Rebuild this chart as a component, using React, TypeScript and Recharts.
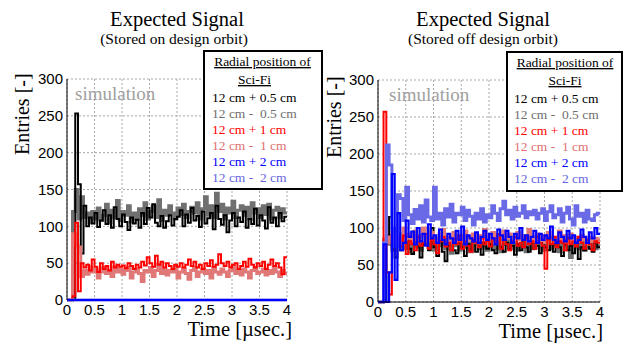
import React from 'react';
import { ComposedChart, Line, XAxis, YAxis, CartesianGrid } from 'recharts';

// bin edges in µs (80 bins of 0.05 µs)
const binEdges = [
  0, 0.05, 0.1, 0.15, 0.2, 0.25, 0.3, 0.35, 0.4, 0.45,
  0.5, 0.55, 0.6, 0.65, 0.7, 0.75, 0.8, 0.85, 0.9, 0.95,
  1, 1.05, 1.1, 1.15, 1.2, 1.25, 1.3, 1.35, 1.4, 1.45,
  1.5, 1.55, 1.6, 1.65, 1.7, 1.75, 1.8, 1.85, 1.9, 1.95,
  2, 2.05, 2.1, 2.15, 2.2, 2.25, 2.3, 2.35, 2.4, 2.45,
  2.5, 2.55, 2.6, 2.65, 2.7, 2.75, 2.8, 2.85, 2.9, 2.95,
  3, 3.05, 3.1, 3.15, 3.2, 3.25, 3.3, 3.35, 3.4, 3.45,
  3.5, 3.55, 3.6, 3.65, 3.7, 3.75, 3.8, 3.85, 3.9, 3.95,
  4,
];

const xMajor = [0, 0.5, 1, 1.5, 2, 2.5, 3, 3.5, 4];
const xMinor = [
  0, 0.1, 0.2, 0.3, 0.4, 0.5, 0.6, 0.7, 0.8, 0.9, 1, 1.1, 1.2, 1.3, 1.4, 1.5, 1.6, 1.7, 1.8, 1.9,
  2, 2.1, 2.2, 2.3, 2.4, 2.5, 2.6, 2.7, 2.8, 2.9, 3, 3.1, 3.2, 3.3, 3.4, 3.5, 3.6, 3.7, 3.8, 3.9, 4,
];
const yMajor = [0, 50, 100, 150, 200, 250, 300];
const yMinor = [
  0, 10, 20, 30, 40, 50, 60, 70, 80, 90, 100, 110, 120, 130, 140, 150, 160, 170, 180, 190,
  200, 210, 220, 230, 240, 250, 260, 270, 280, 290, 300,
];

// ---- Left panel: stored on design orbit ----
const leftP05 = [
  0, 0, 0, 253, 157, 63, 128, 100, 112, 104,
  118, 99, 108, 122, 103, 115, 98, 126, 110, 100,
  116, 106, 95, 112, 104, 109, 98, 118, 103, 125,
  112, 130, 105, 100, 114, 98, 107, 115, 101, 110,
  113, 122, 100, 116, 105, 125, 108, 114, 99, 120,
  104, 111, 118, 96, 128, 110, 102, 115, 92, 108,
  118, 100, 112, 106, 120, 98, 110, 103, 124, 101,
  115, 108, 97, 126, 105, 112, 100, 118, 107, 113,
];
const leftM05 = [
  0, 0, 120, 150, 110, 140, 112, 118, 105, 120,
  110, 125, 108, 115, 130, 105, 122, 112, 135, 108,
  120, 115, 128, 106, 118, 110, 124, 115, 132, 110,
  120, 127, 112, 136, 108, 122, 115, 128, 118, 110,
  125, 116, 130, 112, 120, 126, 118, 132, 110, 124,
  140, 115, 128, 112, 145, 120, 130, 110, 125, 118,
  134, 112, 122, 128, 115, 126, 110, 132, 118, 124,
  112, 128, 116, 130, 110, 122, 126, 112, 124, 118,
];
const leftP1 = [
  0, 0, 5, 105, 12, 50, 44, 48, 40, 55,
  45, 38, 50, 42, 46, 40, 52, 44, 48, 45,
  47, 43, 50, 46, 42, 48, 44, 52, 47, 58,
  50, 45, 60, 48, 52, 44, 50, 46, 42, 48,
  45, 50, 44, 48, 55, 46, 52, 44, 48, 42,
  50, 46, 54, 45, 48, 62, 50, 46, 52, 44,
  48, 50, 42, 46, 52, 45, 56, 48, 44, 50,
  46, 52, 42, 48, 55, 46, 50, 44, 35, 58,
];
const leftM1 = [
  0, 0, 90, 75, 72, 32, 40, 35, 45, 38,
  42, 30, 38, 44, 36, 40, 32, 45, 38, 42,
  35, 40, 44, 30, 38, 42, 36, 25, 40, 38,
  44, 32, 40, 48, 36, 42, 34, 40, 38, 45,
  30, 38, 42, 36, 28, 40, 44, 32, 38, 42,
  36, 40, 30, 44, 38, 35, 42, 38, 32, 40,
  45, 36, 40, 34, 42, 38, 30, 40, 44, 36,
  38, 42, 34, 40, 36, 44, 38, 32, 40, 36,
];
const leftP2 = [
  0, 0, 0, 0, 0, 0, 0, 0, 0, 0,
  0, 0, 0, 0, 0, 0, 0, 0, 0, 0,
  0, 0, 0, 0, 0, 0, 0, 0, 0, 0,
  0, 0, 0, 0, 0, 0, 0, 0, 0, 0,
  0, 0, 0, 0, 0, 0, 0, 0, 0, 0,
  0, 0, 0, 0, 0, 0, 0, 0, 0, 0,
  0, 0, 0, 0, 0, 0, 0, 0, 0, 0,
  0, 0, 0, 0, 0, 0, 0, 0, 0, 0,
];
const leftM2 = [
  0, 0, 0, 0, 0, 0, 0, 0, 0, 0,
  0, 0, 0, 0, 0, 0, 0, 0, 0, 0,
  0, 0, 0, 0, 0, 0, 0, 0, 0, 0,
  0, 0, 0, 0, 0, 0, 0, 0, 0, 0,
  0, 0, 0, 0, 0, 0, 0, 0, 0, 0,
  0, 0, 0, 0, 0, 0, 0, 0, 0, 0,
  0, 0, 0, 0, 0, 0, 0, 0, 0, 0,
  0, 0, 0, 0, 0, 0, 0, 0, 0, 0,
];

// ---- Right panel: stored off design orbit ----
const rightP05 = [
  0, 0, 0, 80, 115, 75, 60, 85, 70, 80,
  90, 72, 65, 82, 75, 60, 78, 85, 70, 100,
  74, 62, 80, 68, 55, 76, 84, 70, 66, 80,
  74, 62, 78, 70, 82, 68, 75, 64, 80, 72,
  78, 70, 66, 82, 74, 68, 80, 72, 76, 64,
  78, 70, 84, 74, 68, 80, 72, 76, 66, 80,
  74, 70, 78, 68, 82, 74, 62, 78, 70, 76,
  66, 80, 58, 74, 70, 78, 72, 68, 80, 74,
];
const rightM05 = [
  0, 0, 80, 90, 78, 70, 84, 76, 92, 72,
  80, 68, 86, 74, 82, 70, 78, 88, 74, 80,
  70, 84, 76, 90, 72, 80, 66, 82, 76, 70,
  84, 74, 80, 68, 78, 86, 72, 80, 74, 70,
  82, 76, 72, 80, 68, 78, 84, 72, 76, 80,
  70, 74, 82, 68, 78, 72, 80, 86, 74, 70,
  78, 82, 72, 76, 80, 68, 78, 84, 74, 60,
  80, 76, 72, 82, 70, 78, 74, 80, 72, 76,
];
const rightP1 = [
  0, 0, 257, 40, 10, 95, 80, 85, 75, 90,
  65, 82, 78, 70, 88, 76, 80, 92, 72, 84,
  78, 66, 82, 88, 75, 80, 70, 85, 78, 90,
  72, 82, 76, 68, 84, 80, 74, 88, 78, 82,
  75, 86, 80, 92, 72, 84, 78, 70, 82, 88,
  76, 80, 74, 86, 78, 82, 72, 88, 80, 76,
  45, 84, 78, 88, 74, 82, 80, 70, 86, 78,
  82, 75, 88, 80, 72, 84, 78, 70, 82, 80,
];
const rightM1 = [
  0, 0, 85, 80, 88, 95, 82, 90, 78, 100,
  86, 92, 80, 96, 84, 90, 100, 82, 88, 94,
  86, 80, 92, 98, 84, 88, 80, 94, 86, 90,
  82, 96, 88, 84, 92, 80, 90, 86, 98, 82,
  88, 94, 84, 90, 80, 96, 86, 92, 82, 88,
  94, 84, 90, 86, 98, 82, 88, 92, 84, 90,
  80, 94, 86, 88, 82, 96, 84, 90, 80, 92,
  86, 88, 82, 90, 84, 78, 88, 82, 86, 84,
];
const rightP2 = [
  0, 0, 78, 0, 40, 173, 30, 120, 70, 80,
  110, 88, 95, 78, 100, 82, 92, 76, 105, 86,
  90, 80, 98, 84, 78, 92, 86, 80, 96, 84,
  102, 78, 90, 86, 82, 94, 80, 88, 96, 84,
  92, 86, 78, 98, 90, 84, 96, 88, 80, 92,
  86, 100, 84, 90, 82, 88, 96, 80, 92, 84,
  90, 86, 102, 84, 80, 94, 88, 82, 96, 86,
  90, 80, 84, 98, 88, 80, 94, 86, 100, 92,
];
const rightM2 = [
  0, 0, 80, 212, 185, 100, 75, 145, 140, 110,
  155, 118, 106, 125, 112, 130, 108, 138, 115, 110,
  155, 112, 120, 104, 126, 115, 132, 108, 120, 118,
  128, 110, 124, 116, 104, 120, 112, 126, 108, 118,
  114, 130, 120, 110, 126, 136, 118, 124, 112, 128,
  116, 120, 130, 114, 122, 118, 124, 112, 120, 126,
  110, 122, 130, 114, 118, 126, 108, 120, 128, 112,
  104, 130, 116, 120, 108, 124, 112, 110, 118, 120,
];

// legend order
const legendEntries = [
  { key: 'p05', label: '12 cm + 0.5 cm', color: '#000000' },
  { key: 'm05', label: '12 cm -  0.5 cm', color: '#6e6e6e' },
  { key: 'p1', label: '12 cm + 1 cm', color: '#ff0000' },
  { key: 'm1', label: '12 cm -  1 cm', color: '#e07070' },
  { key: 'p2', label: '12 cm + 2 cm', color: '#0000ff' },
  { key: 'm2', label: '12 cm -  2 cm', color: '#6565e0' },
];

// draw order
const drawOrder = [
  { key: 'm05', color: '#707070', width: 3 },
  { key: 'p05', color: '#000000', width: 2 },
  { key: 'm1', color: '#e07878', width: 3 },
  { key: 'p1', color: '#ff0000', width: 2 },
  { key: 'm2', color: '#6a6ae6', width: 3 },
  { key: 'p2', color: '#0000ff', width: 2.2 },
];

function buildRows(series: Record<string, number[]>) {
  return binEdges.map((t, i) => {
    const row: Record<string, number> = { t };
    Object.keys(series).forEach((k) => {
      const arr = series[k];
      row[k] = arr[Math.min(i, arr.length - 1)];
    });
    return row;
  });
}

const leftRows = buildRows({ p05: leftP05, m05: leftM05, p1: leftP1, m1: leftM1, p2: leftP2, m2: leftM2 });
const rightRows = buildRows({ p05: rightP05, m05: rightM05, p1: rightP1, m1: rightM1, p2: rightP2, m2: rightM2 });

const SANS = "'Liberation Sans', Arial, Helvetica, sans-serif";
const SERIF = "'Liberation Serif', 'Times New Roman', Times, serif";
const FRAME_GRAY = '#808080';

function Panel({ rows, margin, bottomLine }: { rows: any[]; margin: any; bottomLine: boolean }) {
  const tickStyle = { fill: '#000', fontSize: 15, fontFamily: SANS };
  return (
    <ComposedChart width={312} height={344} data={rows} margin={margin}>
      <CartesianGrid stroke="#a8a8a8" strokeDasharray="2 2" />
      <XAxis
        xAxisId={0}
        dataKey="t"
        type="number"
        domain={[0, 4]}
        ticks={xMajor}
        interval={0}
        tickLine={false}
        tickSize={0}
        tickMargin={4}
        height={30}
        axisLine={bottomLine ? { stroke: '#000' } : false}
        tick={tickStyle}
      />
      <XAxis xAxisId="bmaj" type="number" domain={[0, 4]} ticks={xMajor} interval={0} allowDataOverflow mirror height={0}
        tick={false} axisLine={false} tickSize={8} tickLine={{ stroke: '#000' }} />
      <XAxis xAxisId="bmin" type="number" domain={[0, 4]} ticks={xMinor} interval={0} allowDataOverflow mirror height={0}
        tick={false} axisLine={false} tickSize={5} tickLine={{ stroke: '#000' }} />
      <XAxis xAxisId="tmaj" orientation="top" type="number" domain={[0, 4]} ticks={xMajor} interval={0} allowDataOverflow mirror height={0}
        tick={false} axisLine={{ stroke: FRAME_GRAY }} tickSize={8} tickLine={{ stroke: FRAME_GRAY }} />
      <XAxis xAxisId="tmin" orientation="top" type="number" domain={[0, 4]} ticks={xMinor} interval={0} allowDataOverflow mirror height={0}
        tick={false} axisLine={false} tickSize={5} tickLine={{ stroke: FRAME_GRAY }} />
      <YAxis
        yAxisId={0}
        type="number"
        domain={[0, 300]}
        ticks={yMajor}
        interval={0}
        tickLine={false}
        tickSize={0}
        tickMargin={4}
        width={40}
        axisLine={{ stroke: '#000' }}
        tick={tickStyle}
      />
      <YAxis yAxisId="lmaj" type="number" domain={[0, 300]} ticks={yMajor} interval={0} allowDataOverflow mirror width={0}
        tick={false} axisLine={false} tickSize={10} tickLine={{ stroke: '#000' }} />
      <YAxis yAxisId="lmin" type="number" domain={[0, 300]} ticks={yMinor} interval={0} allowDataOverflow mirror width={0}
        tick={false} axisLine={false} tickSize={6} tickLine={{ stroke: '#000' }} />
      <YAxis yAxisId="rmaj" orientation="right" type="number" domain={[0, 300]} ticks={yMajor} interval={0} allowDataOverflow mirror width={0}
        tick={false} axisLine={{ stroke: FRAME_GRAY }} tickSize={10} tickLine={{ stroke: FRAME_GRAY }} />
      <YAxis yAxisId="rmin" orientation="right" type="number" domain={[0, 300]} ticks={yMinor} interval={0} allowDataOverflow mirror width={0}
        tick={false} axisLine={false} tickSize={6} tickLine={{ stroke: FRAME_GRAY }} />
      {drawOrder.map((s) => (
        <Line
          key={s.key}
          xAxisId={0}
          yAxisId={0}
          type="stepAfter"
          dataKey={s.key}
          stroke={s.color}
          strokeWidth={s.width}
          strokeLinejoin="miter"
          dot={false}
          activeDot={false}
          isAnimationActive={false}
        />
      ))}
    </ComposedChart>
  );
}

function Legend({ x, y, w, h, textX, headerCx, sciCx, base }: any) {
  return (
    <g>
      <rect x={x} y={y} width={w} height={h} fill="#fff" stroke="#000" strokeWidth={2} />
      <text x={headerCx} y={base - 35.5} textAnchor="middle" fontFamily={SERIF} fontSize={13.5} fill="#000" textDecoration="underline">
        Radial position of
      </text>
      <text x={sciCx} y={base - 17.5} textAnchor="middle" fontFamily={SERIF} fontSize={13.5} fill="#000" textDecoration="underline">
        Sci-Fi
      </text>
      {legendEntries.map((e, i) => (
        <text key={e.key} x={textX} y={base + i * 16.1} fontFamily={SERIF} fontSize={13.5} fill={e.color} style={{ whiteSpace: 'pre' }}>
          {e.label}
        </text>
      ))}
    </g>
  );
}

export default function App() {
  return (
    <div style={{ position: 'absolute', left: 0, top: 0, width: 624, height: 344, background: '#fff', overflow: 'hidden' }}>
      <div style={{ position: 'absolute', left: 0, top: 0 }}>
        <Panel rows={leftRows} margin={{ top: 79, right: 25, bottom: 14, left: 27 }} bottomLine={false} />
      </div>
      <div style={{ position: 'absolute', left: 312, top: 0 }}>
        <Panel rows={rightRows} margin={{ top: 80, right: 24, bottom: 12, left: 26 }} bottomLine={true} />
      </div>
      <svg width={624} height={344} style={{ position: 'absolute', left: 0, top: 0, pointerEvents: 'none', zIndex: 2 }}>
        {/* titles */}
        <text x={177} y={25.5} textAnchor="middle" fontFamily={SERIF} fontSize={20.5} fill="#000">Expected Signal</text>
        <text x={174} y={43.5} textAnchor="middle" fontFamily={SERIF} fontSize={15.5} fill="#000">(Stored on design orbit)</text>
        <text x={483} y={25.5} textAnchor="middle" fontFamily={SERIF} fontSize={20.5} fill="#000">Expected Signal</text>
        <text x={483} y={44} textAnchor="middle" fontFamily={SERIF} fontSize={15.5} fill="#000">(Stored off design orbit)</text>
        {/* simulation labels */}
        <text x={75} y={100} fontFamily={SERIF} fontSize={19} fill="#a0a0a0">simulation</text>
        <text x={389} y={101} fontFamily={SERIF} fontSize={19} fill="#a0a0a0">simulation</text>
        {/* y axis titles */}
        <text transform="translate(29,155) rotate(-90)" fontFamily={SERIF} fontSize={20} fill="#000">Entries [-]</text>
        <text transform="translate(341,158) rotate(-90)" fontFamily={SERIF} fontSize={20} fill="#000">Entries [-]</text>
        {/* x axis titles */}
        <text x={292} y={336} textAnchor="end" fontFamily={SERIF} fontSize={20.5} fill="#000">Time [µsec.]</text>
        <text x={603} y={338} textAnchor="end" fontFamily={SERIF} fontSize={20.5} fill="#000">Time [µsec.]</text>
        {/* legends */}
        <Legend x={204} y={51} w={118} h={138} textX={212} headerCx={262.5} sciCx={254.5} base={101.5} />
        <Legend x={507} y={52} w={115} h={139} textX={514} headerCx={565} sciCx={565} base={102.5} />
      </svg>
    </div>
  );
}
